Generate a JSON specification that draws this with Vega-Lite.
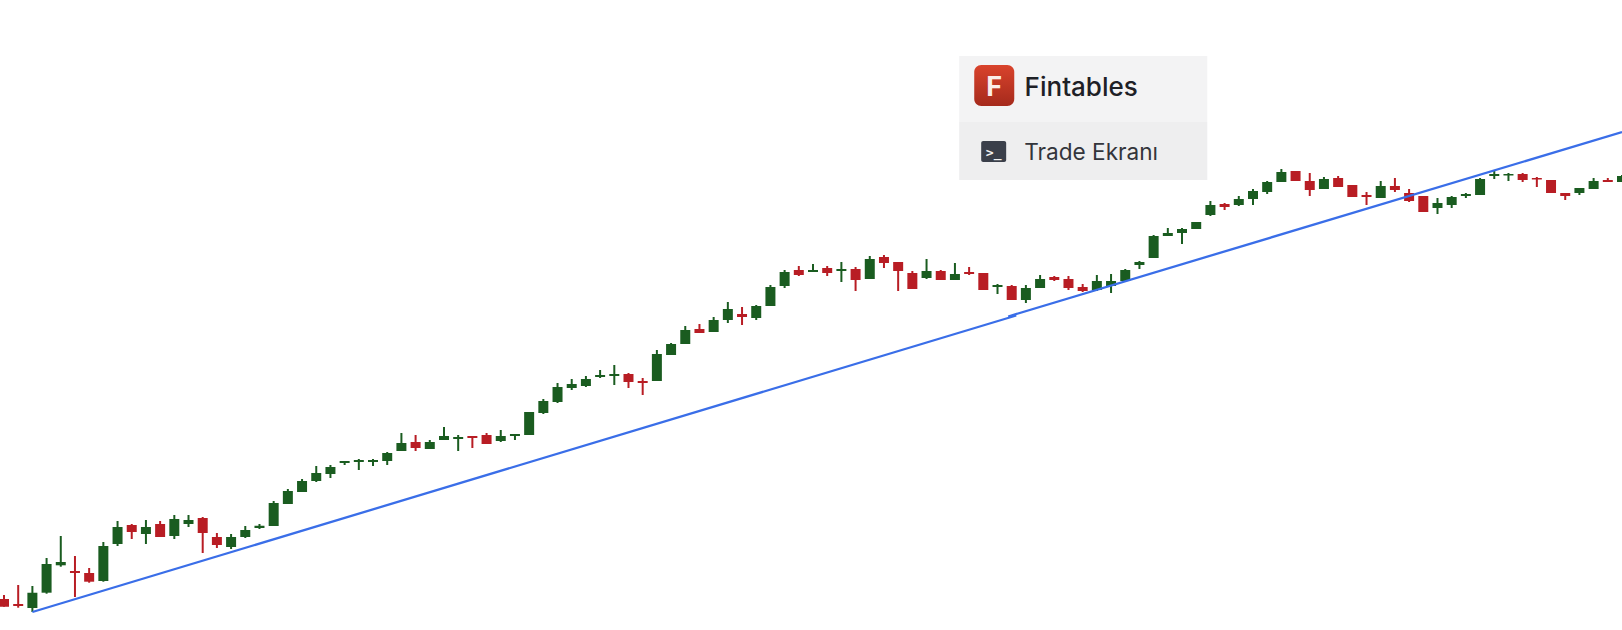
{"$schema":"https://vega.github.io/schema/vega-lite/v6.json","width":1622,"height":630,"padding":0,"autosize":{"type":"none"},"background":"#ffffff","config":{"view":{"stroke":null}},
"datasets":{"candles":[
{"t":0,"high":35,"low":23.3,"open":31,"close":23.3},{"t":1,"high":45,"low":22.3,"open":26,"close":24},{"t":2,"high":44,"low":18,"open":22,"close":37.3},{"t":3,"high":72,"low":36.3,"open":37.3,"close":66},{"t":4,"high":94,"low":63.3,"open":64.7,"close":68},{"t":5,"high":74,"low":33,"open":59,"close":57},{"t":6,"high":62,"low":47.3,"open":57,"close":48.3},{"t":7,"high":88,"low":48.3,"open":49,"close":84},{"t":8,"high":109,"low":84,"open":86,"close":103},{"t":9,"high":106,"low":91,"open":105,"close":98},
{"t":10,"high":110,"low":86,"open":96,"close":103},{"t":11,"high":109,"low":93,"open":106,"close":93},{"t":12,"high":115,"low":91,"open":94,"close":111},{"t":13,"high":115,"low":103,"open":106,"close":110},{"t":14,"high":113,"low":77,"open":112,"close":97},{"t":15,"high":97,"low":82,"open":93,"close":85},{"t":16,"high":96,"low":81,"open":83,"close":93},{"t":17,"high":104,"low":92,"open":93,"close":100},{"t":18,"high":106,"low":101,"open":102,"close":104.3},{"t":19,"high":129,"low":104,"open":104,"close":127},
{"t":20,"high":141,"low":126,"open":126,"close":139},{"t":21,"high":151,"low":138,"open":138,"close":149},{"t":22,"high":164,"low":148,"open":149,"close":157},{"t":23,"high":165,"low":152,"open":156,"close":163},{"t":24,"high":169,"low":165,"open":167,"close":169},{"t":25,"high":171,"low":160,"open":168,"close":170},{"t":26,"high":171,"low":164,"open":168,"close":170},{"t":27,"high":178,"low":165,"open":169,"close":177},{"t":28,"high":197,"low":179,"open":179,"close":187},{"t":29,"high":195,"low":179,"open":188,"close":182},
{"t":30,"high":190,"low":181,"open":181,"close":188},{"t":31,"high":203,"low":190,"open":190,"close":194},{"t":32,"high":195,"low":179,"open":191,"close":193},{"t":33,"high":194,"low":182,"open":194,"close":192},{"t":34,"high":197,"low":186,"open":195,"close":186},{"t":35,"high":200,"low":188,"open":189,"close":194},{"t":36,"high":196,"low":190,"open":194,"close":196},{"t":37,"high":218,"low":195,"open":195,"close":218},{"t":38,"high":231,"low":216,"open":217,"close":229},{"t":39,"high":247,"low":227,"open":228,"close":243},
{"t":40,"high":251,"low":240,"open":242,"close":246},{"t":41,"high":254,"low":243,"open":244,"close":251},{"t":42,"high":260,"low":252,"open":253,"close":255},{"t":43,"high":265,"low":245,"open":254,"close":256},{"t":44,"high":257,"low":242,"open":256,"close":248},{"t":45,"high":252,"low":235,"open":249,"close":247},{"t":46,"high":280,"low":249,"open":249,"close":276},{"t":47,"high":287,"low":275,"open":275,"close":286},{"t":48,"high":304,"low":286,"open":286,"close":300},{"t":49,"high":306,"low":297,"open":301,"close":297},
{"t":50,"high":313,"low":298,"open":298,"close":310},{"t":51,"high":328,"low":307,"open":310,"close":321},{"t":52,"high":323,"low":305,"open":316,"close":313},{"t":53,"high":325,"low":310,"open":312,"close":324},{"t":54,"high":345,"low":324,"open":324,"close":343},{"t":55,"high":360,"low":342,"open":344,"close":358},{"t":56,"high":364,"low":354,"open":360,"close":355},{"t":57,"high":366,"low":358,"open":358,"close":360},{"t":58,"high":364,"low":354,"open":362,"close":357},{"t":59,"high":368,"low":348,"open":359,"close":361},
{"t":60,"high":363,"low":339,"open":361,"close":350},{"t":61,"high":374,"low":351,"open":351,"close":371},{"t":62,"high":375,"low":362,"open":373,"close":367},{"t":63,"high":368,"low":339,"open":368,"close":359},{"t":64,"high":359,"low":341,"open":357,"close":341},{"t":65,"high":371,"low":351,"open":352,"close":359},{"t":66,"high":360,"low":350,"open":359,"close":350},{"t":67,"high":367,"low":350,"open":350,"close":356},{"t":68,"high":363,"low":355,"open":358,"close":356},{"t":69,"high":357,"low":340,"open":357,"close":340},
{"t":70,"high":346,"low":336,"open":343,"close":345},{"t":71,"high":345,"low":330,"open":344,"close":330},{"t":72,"high":345,"low":327,"open":330,"close":342},{"t":73,"high":355,"low":342,"open":342,"close":351},{"t":74,"high":354,"low":349,"open":353,"close":350},{"t":75,"high":354,"low":340,"open":351,"close":342},{"t":76,"high":346,"low":338,"open":343,"close":339},{"t":77,"high":355,"low":339,"open":340,"close":349},{"t":78,"high":356,"low":337,"open":344,"close":349},{"t":79,"high":361,"low":348,"open":349,"close":360},
{"t":80,"high":369,"low":361,"open":365,"close":368},{"t":81,"high":395,"low":372,"open":372,"close":394},{"t":82,"high":402,"low":394,"open":394,"close":397},{"t":83,"high":402,"low":386,"open":397,"close":401},{"t":84,"high":408,"low":401,"open":401,"close":408},{"t":85,"high":429,"low":414,"open":415,"close":425},{"t":86,"high":427,"low":420,"open":426,"close":423},{"t":87,"high":434,"low":424,"open":425,"close":431},{"t":88,"high":441,"low":425,"open":431,"close":439},{"t":89,"high":449,"low":436,"open":438,"close":448},
{"t":90,"high":461,"low":448,"open":448,"close":458},{"t":91,"high":459,"low":449,"open":459,"close":449},{"t":92,"high":457,"low":434,"open":449,"close":440},{"t":93,"high":453,"low":441,"open":441,"close":451},{"t":94,"high":454,"low":443,"open":452,"close":443},{"t":95,"high":445,"low":433,"open":445,"close":433},{"t":96,"high":438,"low":425,"open":435,"close":433},{"t":97,"high":449,"low":432,"open":432,"close":444},{"t":98,"high":452,"low":438,"open":444,"close":440},{"t":99,"high":441,"low":428,"open":437,"close":429},
{"t":100,"high":434,"low":418,"open":434,"close":418},{"t":101,"high":432,"low":416,"open":422,"close":427},{"t":102,"high":434,"low":422,"open":425,"close":433},{"t":103,"high":437,"low":432,"open":434,"close":436},{"t":104,"high":452,"low":435,"open":435,"close":451},{"t":105,"high":460,"low":451,"open":454,"close":456},{"t":106,"high":457,"low":449,"open":454.5,"close":456},{"t":107,"high":457,"low":448,"open":456,"close":450},{"t":108,"high":453,"low":443,"open":452,"close":450.5},{"t":109,"high":450,"low":437,"open":450,"close":437},
{"t":110,"high":437,"low":430,"open":437,"close":434},{"t":111,"high":442,"low":435,"open":437,"close":442},{"t":112,"high":452,"low":441,"open":441,"close":449},{"t":113,"high":452,"low":448,"open":450,"close":448},{"t":114,"high":455,"low":448,"open":448,"close":454}
],
"trend":[{"t":2,"price":18,"seg":"a"},{"t":71.32,"price":314.5,"seg":"a"},{"t":70.75,"price":313.5,"seg":"b"},{"t":114,"price":498,"seg":"b"}]},
"layer":[
{"data":{"values":[{"a":67.3,"b":84.78,"p":574,"q":508}]},"mark":{"type":"rect","color":"#f3f3f4"},"encoding":{"x":{"field":"a","type":"quantitative","scale":{"domain":[-0.282,114],"nice":false,"zero":false,"padding":0},"axis":null},"x2":{"field":"b"},"y":{"field":"p","type":"quantitative","scale":{"domain":[0,630],"nice":false,"zero":false},"axis":null},"y2":{"field":"q"}}},
{"data":{"values":[{"a":67.3,"b":84.78,"p":508,"q":450}]},"mark":{"type":"rect","color":"#eeeeef"},"encoding":{"x":{"field":"a","type":"quantitative"},"x2":{"field":"b"},"y":{"field":"p","type":"quantitative"},"y2":{"field":"q"}}},
{"data":{"values":[{"a":68.36,"b":71.18,"p":565,"q":524}]},"mark":{"type":"rect","cornerRadius":7,"color":{"gradient":"linear","x1":0,"y1":0,"x2":0,"y2":1,"stops":[{"offset":0,"color":"#d9432c"},{"offset":1,"color":"#a52a1c"}]}},"encoding":{"x":{"field":"a","type":"quantitative"},"x2":{"field":"b"},"y":{"field":"p","type":"quantitative"},"y2":{"field":"q"}}},
{"data":{"values":[{"a":68.85,"b":70.61,"p":489,"q":468}]},"mark":{"type":"rect","cornerRadius":2,"color":"#3a3f4a"},"encoding":{"x":{"field":"a","type":"quantitative"},"x2":{"field":"b"},"y":{"field":"p","type":"quantitative"},"y2":{"field":"q"}}},
{"data":{"values":[{"a":69.77,"p":534.5,"label":"F"}]},"mark":{"type":"text","font":"Inter","fontSize":27,"fontWeight":700,"align":"center","baseline":"alphabetic","color":"#fbeeea"},"encoding":{"x":{"field":"a","type":"quantitative"},"y":{"field":"p","type":"quantitative"},"text":{"field":"label"}}},
{"data":{"values":[{"a":69.73,"p":473,"label":">_"}]},"mark":{"type":"text","font":"DejaVu Sans Mono","fontSize":13,"fontWeight":700,"align":"center","baseline":"alphabetic","color":"#f2f2f2"},"encoding":{"x":{"field":"a","type":"quantitative"},"y":{"field":"p","type":"quantitative"},"text":{"field":"label"}}},
{"data":{"values":[{"a":71.91,"p":534,"label":"Fintables"}]},"mark":{"type":"text","font":"Inter","fontSize":26,"fontWeight":500,"align":"left","baseline":"alphabetic","color":"#1e2026"},"encoding":{"x":{"field":"a","type":"quantitative"},"y":{"field":"p","type":"quantitative"},"text":{"field":"label"}}},
{"data":{"values":[{"a":71.88,"p":470.5,"label":"Trade Ekranı"}]},"mark":{"type":"text","font":"Inter","fontSize":22.6,"fontWeight":400,"align":"left","baseline":"alphabetic","color":"#33353b"},"encoding":{"x":{"field":"a","type":"quantitative"},"y":{"field":"p","type":"quantitative"},"text":{"field":"label"}}},
{"data":{"name":"candles"},"mark":{"type":"rule","strokeWidth":2},"encoding":{"x":{"field":"t","type":"quantitative"},"y":{"field":"low","type":"quantitative"},"y2":{"field":"high"},"color":{"condition":{"test":"datum.close>=datum.open","value":"#1a5c20"},"value":"#b81d24"}}},
{"data":{"name":"candles"},"mark":{"type":"bar","orient":"vertical","width":10},"encoding":{"x":{"field":"t","type":"quantitative"},"y":{"field":"open","type":"quantitative"},"y2":{"field":"close"},"color":{"condition":{"test":"datum.close>=datum.open","value":"#1a5c20"},"value":"#b81d24"}}},
{"data":{"name":"trend"},"mark":{"type":"line","strokeWidth":2.3,"color":"#3a6ee8"},"encoding":{"x":{"field":"t","type":"quantitative"},"y":{"field":"price","type":"quantitative"},"detail":{"field":"seg"}}}
]}
